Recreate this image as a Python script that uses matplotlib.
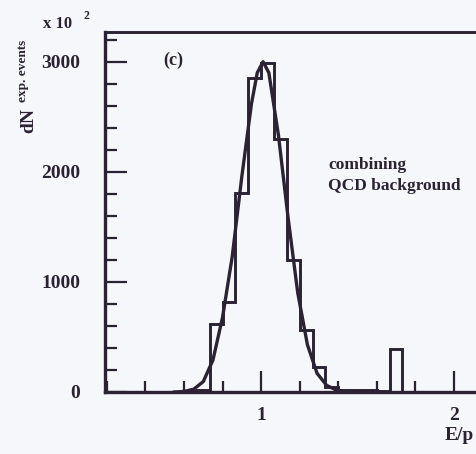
import numpy as np
import matplotlib
matplotlib.use('Agg')
import matplotlib.pyplot as plt
from matplotlib.ticker import MultipleLocator, FixedLocator

# histogram: counts per bin of width 1/15, first bin starts at E/p = 0.2
bin_start = 0.2
bin_width = 1.0 / 15
counts = [0, 0, 0, 0, 0, 0, 8, 20, 620, 820, 1810, 2850, 2990, 2300, 1200,
          560, 225, 45, 20, 15, 15, 10, 390, 0, 0, 0, 0, 0, 0, 0]

# fitted curve, points
curve_x = [0.55, 0.60, 0.65, 0.70, 0.75, 0.80, 0.85, 0.90, 0.95, 0.98, 1.01,
           1.04, 1.09, 1.14, 1.19, 1.24, 1.29, 1.34, 1.39, 1.44, 1.50]
curve_y = [0, 5, 25, 95, 290, 680, 1230, 1960, 2620, 2900, 3000,
           2900, 2330, 1580, 900, 430, 170, 60, 18, 5, 0]

x_major = [1, 2]
y_major = [0, 1000, 2000, 3000]

W, H = 476, 454
ink = '#2b2233'
bg = '#f5f7fb'

plt.rcParams['font.family'] = ['Liberation Serif', 'DejaVu Serif']
plt.rcParams['font.weight'] = 'bold'

fig = plt.figure(figsize=(W / 100, H / 100), dpi=100, facecolor=bg)


def px(x, y):
    return x / W, 1 - y / H


# axes placed in pixel terms; right edge runs past the figure like the scan
left, right, top, bottom = 105, 531, 32, 392
ax = fig.add_axes([left / W, 1 - bottom / H, (right - left) / W, (bottom - top) / H])
ax.set_facecolor(bg)

edges = bin_start + np.arange(len(counts) + 1) * bin_width
ax.stairs(counts, edges, color=ink, lw=2.1, baseline=0)
ax.plot(curve_x, curve_y, color=ink, lw=2.4)

ax.set_xlim(0.19, 2.4)
ax.set_ylim(0, 3270)

ax.xaxis.set_major_locator(FixedLocator(x_major))
ax.xaxis.set_minor_locator(MultipleLocator(0.2))
ax.yaxis.set_major_locator(FixedLocator(y_major))
ax.yaxis.set_minor_locator(MultipleLocator(200))

ax.tick_params(which='both', direction='in', top=False, right=False,
               color=ink, labelcolor=ink, labelsize=14)
ax.tick_params(axis='x', which='major', length=15, width=1.6, pad=11)
ax.tick_params(axis='x', which='minor', length=8, width=1.6)
ax.tick_params(axis='y', which='major', length=16, width=1.6, pad=18)
ax.tick_params(axis='y', which='minor', length=8.5, width=1.6)

for s in ['left', 'bottom']:
    ax.spines[s].set_linewidth(2.4)
ax.spines['top'].set_linewidth(2.1)
for s in ax.spines.values():
    s.set_color(ink)

# panel text
fig.text(*px(163, 60), '(c)', color=ink, fontsize=13, ha='left', va='center')
fig.text(*px(328, 165), 'combining', color=ink, fontsize=12.5, ha='left', va='center')
fig.text(*px(328, 186), 'QCD background', color=ink, fontsize=12.5, ha='left', va='center')

# axis titles
fig.text(*px(445, 436), 'E/p', color=ink, fontsize=14, ha='left', va='center')
fig.text(*px(43, 24), 'x 10', color=ink, fontsize=12, ha='left', va='center')
fig.text(*px(84, 16), '2', color=ink, fontsize=8.5, ha='left', va='center')
fig.text(*px(29, 133), 'dN', color=ink, fontsize=14, rotation=90, ha='center', va='bottom')
fig.text(*px(23, 102), 'exp. events', color=ink, fontsize=9.5, rotation=90,
         ha='center', va='bottom')

fig.savefig('out.png', dpi=100, facecolor=bg)
